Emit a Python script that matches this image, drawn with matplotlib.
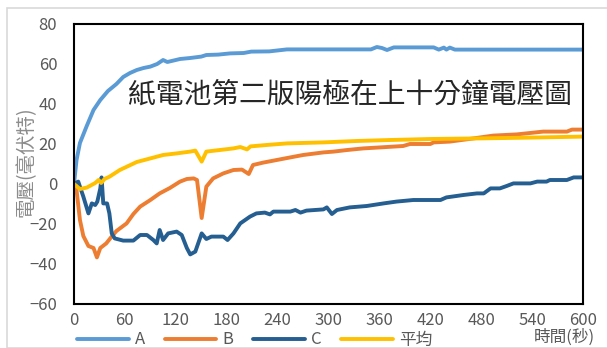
import matplotlib
matplotlib.use("Agg")
import matplotlib.pyplot as plt
from matplotlib.patches import Rectangle

plt.rcParams['font.family'] = ['Noto Sans CJK TC', 'DejaVu Sans']

# Voltage readings (mV) over ten minutes; each series has its own sample times (s)
t_a = [0, 3, 7, 15, 23, 31, 40, 50, 58, 66, 74, 82, 90, 98, 105, 110, 115, 125, 137,
       150, 156, 170, 184, 200, 209, 230, 251, 300, 350, 357, 363, 369, 377, 400, 424,
       430, 436, 439, 443, 449, 500, 550, 600]
v_a = [0, 12, 20.5, 29, 37, 42, 46.5, 50, 53.5, 55.5, 57, 58, 58.7, 60, 62, 61, 61.5,
       62.5, 63, 63.7, 64.5, 64.7, 65.3, 65.5, 66.2, 66.3, 67.3, 67.3, 67.3, 68.5, 68,
       67, 68.3, 68.3, 68.3, 67.2, 68.2, 67.2, 68.2, 67.2, 67.2, 67.2, 67.2]

t_b = [0, 3, 7, 11, 17, 23, 27, 31, 38, 44, 50, 62, 70, 78, 90, 101, 113, 125, 133,
       141, 145, 150.5, 156, 164, 176, 188, 198, 206, 211, 223, 239, 255, 270, 294,
       306, 322, 341, 361, 388, 396, 420, 424, 443, 471, 494, 522, 553, 581, 587, 600]
v_b = [0, -3, -18, -26, -31, -32, -36.7, -32, -29.7, -26.5, -23.5, -19.7, -15, -11.3,
       -8, -4.7, -2, 1.2, 2.5, 2.8, 2, -17, -1.3, 2.8, 5.3, 7, 7.2, 5, 9.5, 10.7, 12,
       13.3, 14.5, 15.8, 16.2, 17, 17.8, 18.3, 19, 20, 20, 20.8, 21.2, 22.8, 24.2,
       24.8, 26.2, 26.2, 27.2, 27.2]

t_c = [0, 5, 11, 17, 21, 25, 27.5, 31, 32.5, 34.5, 39, 41.7, 44.5, 48, 58, 70, 78, 86,
       93.5, 97.5, 101, 105, 111, 121, 127, 133, 137, 143, 150.5, 156, 162, 176, 181,
       188, 196, 207.5, 215, 225, 231, 235, 255, 261, 267, 274, 294, 298, 304, 310,
       325, 345, 365, 380, 400, 432, 439, 459, 475, 483, 491, 502, 510, 518, 538, 546,
       557, 561, 581, 589, 600]
v_c = [0, 1.2, -6.3, -14.7, -9.7, -10.5, -8.8, -2.2, 3.3, -9.7, -9.7, -14.7, -24.7,
       -27.2, -28.3, -28.3, -25.5, -25.5, -28, -29.7, -23, -28, -24.7, -23.8, -25.5,
       -32, -35.2, -33.8, -24.7, -27.5, -26.3, -26.3, -28, -24.7, -19.7, -16.3, -14.7,
       -14.3, -15.2, -13.8, -13.8, -13, -14.3, -13.3, -12.7, -11.7, -15, -13, -11.7,
       -11, -9.7, -8.8, -8, -8, -6.7, -5.5, -4.7, -4.7, -2.2, -2.2, -1, 0.3, 0.3, 1.2,
       1.2, 2, 2, 3.3, 3.3]

t_avg = [0, 7, 15, 25, 29, 32, 36, 42, 54, 74, 90, 105, 121, 137, 143, 150.5, 156,
         172, 188, 196, 204, 208, 227, 251, 294, 333, 373, 420, 479, 538, 600]
v_avg = [0, -2.5, -1.8, 0.5, 2.0, 0.5, 2.5, 3.7, 7, 11, 12.8, 14.5, 15.3, 16.2, 16.7,
         11.2, 16.2, 17, 17.8, 18.5, 17.3, 18.8, 19.5, 20.3, 20.8, 21.5, 22, 22.5, 22.8,
         23.2, 23.7]

series_names = ['A', 'B', 'C', '平均']
series_colors = ['#5B9BD5', '#ED7D31', '#255E91', '#FFC000']

x_ticks = list(range(0, 601, 60))
y_ticks = list(range(-60, 81, 20))

title_text = '紙電池第二版陽極在上十分鐘電壓圖'
x_label = '時間(秒)'
y_label = '電壓(毫伏特)'

W, H = 607, 348
fig = plt.figure(figsize=(W / 100, H / 100), dpi=100)

# light outer border of the chart area
fig.patches.append(Rectangle((7 / W, 0), 1.2, 1 - 8 / H, transform=fig.transFigure,
                             fill=False, edgecolor='#D9D9D9', linewidth=1.2))

ax = fig.add_axes([74 / W, 44 / H, 509 / W, 280 / H])

lines = []
for (tx, vy), name, col in zip([(t_a, v_a), (t_b, v_b), (t_c, v_c), (t_avg, v_avg)],
                               series_names, series_colors):
    ln, = ax.plot(tx, vy, color=col, lw=2.8, label=name,
                  solid_joinstyle='round', solid_capstyle='round')
    lines.append(ln)

ax.set_xlim(0, 600)
ax.set_ylim(-60, 80)
ax.set_xticks(x_ticks)
ax.set_yticks(y_ticks)
ax.tick_params(axis='both', length=0, labelsize=12, labelcolor='#595959')
ax.tick_params(axis='y', pad=12)
ax.tick_params(axis='x', pad=6)
for sp in ax.spines.values():
    sp.set_color('black')
    sp.set_linewidth(1.5)

ax.text(350 / W, 1 - 95 / H, title_text, transform=fig.transFigure, ha='center',
        va='center', fontsize=20, color='#262626', fontweight='light')

fig.text(26 / W, 1 - 162 / H, y_label, rotation=90, ha='center', va='center',
         fontsize=14, color='#8C8C8C')
fig.text(595 / W, 1 - 337 / H, x_label, ha='right', va='center', fontsize=12,
         color='#595959')

leg = ax.legend(handles=lines, loc='center left', bbox_to_anchor=(77 / W, 1 - 340 / H),
                bbox_transform=fig.transFigure, ncol=4, frameon=False, fontsize=12,
                handlelength=3.1, handletextpad=0.35, columnspacing=1.2, borderpad=0,
                borderaxespad=0)
for txt in leg.get_texts():
    txt.set_color('#595959')

fig.savefig('out.png', dpi=100)
